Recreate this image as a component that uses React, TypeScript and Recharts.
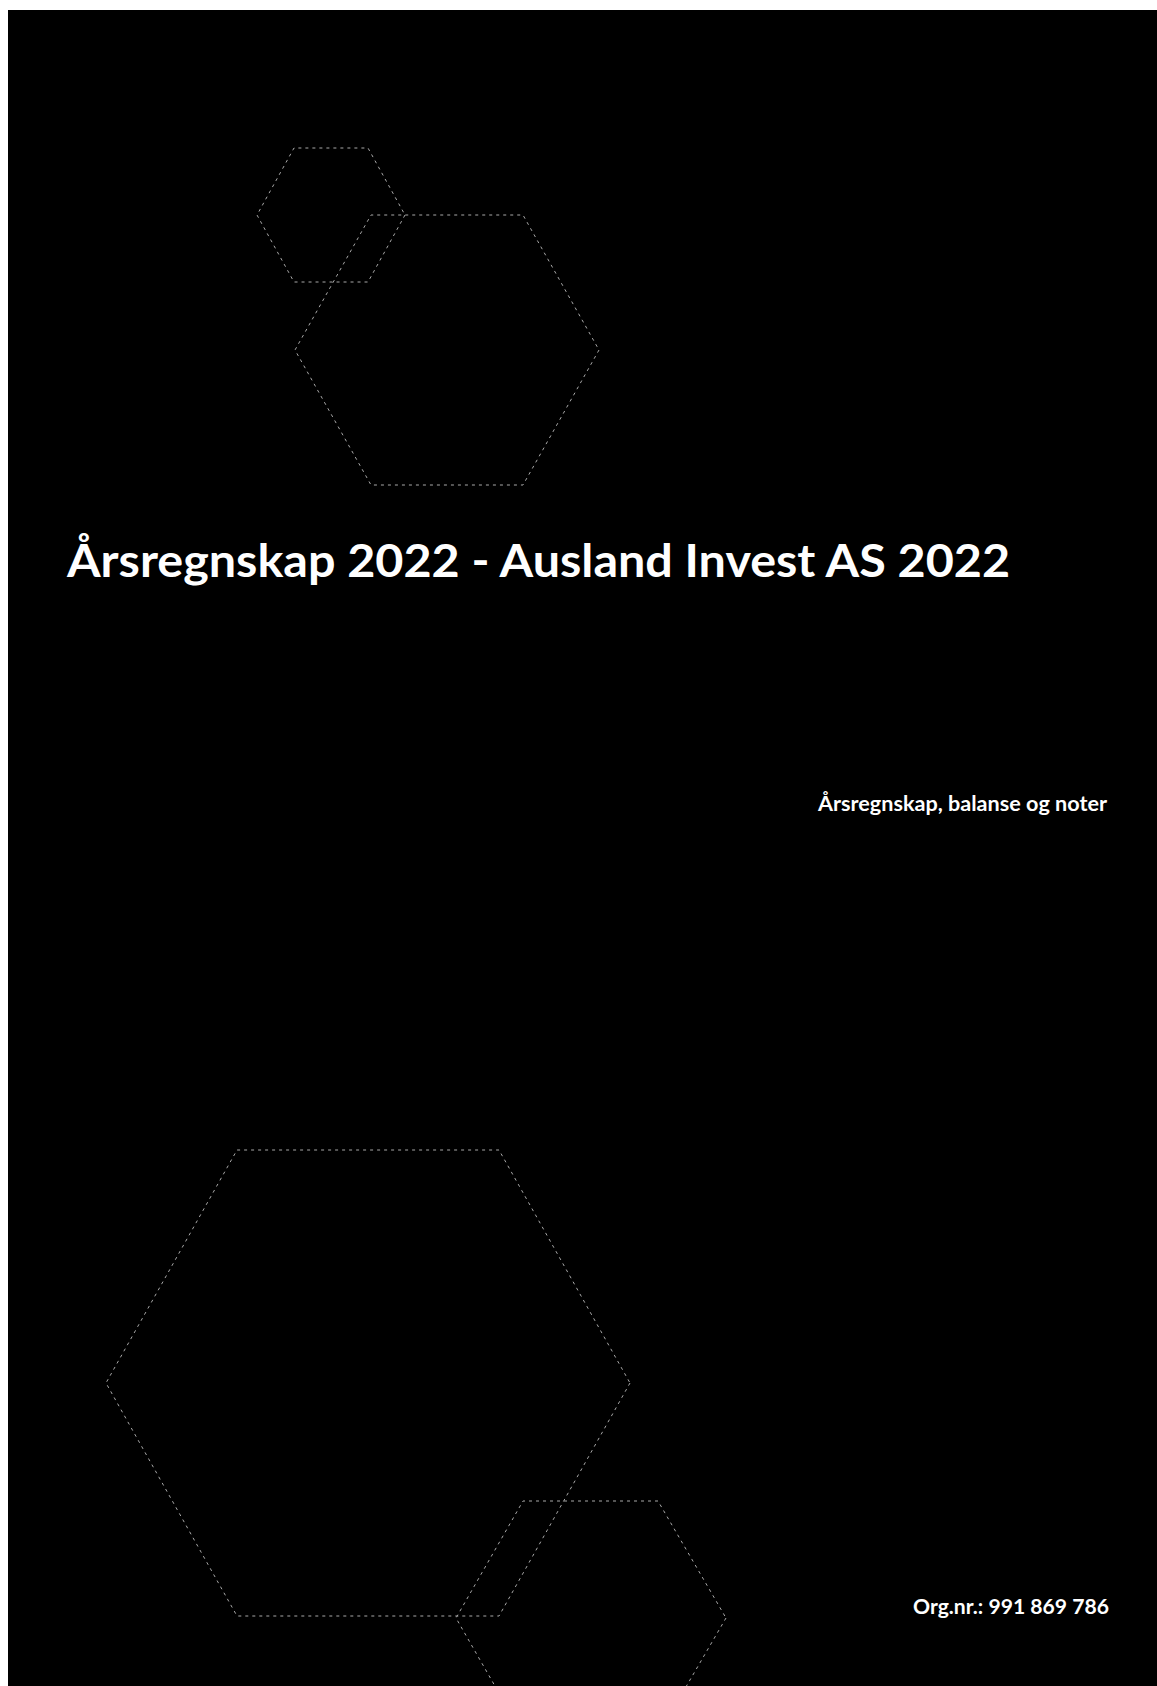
import React from 'react';
import { ScatterChart, Scatter, XAxis, YAxis } from 'recharts';

// Page-space coordinates (pixels).
const PAGE_X = [8, 1157];
const PAGE_Y = [10, 1686];

// Hexagon outlines (closed polygons, vertex lists)
const hexSmallTop = [
  { x: 405, y: 215 }, { x: 368, y: 282 }, { x: 294, y: 282 }, { x: 257, y: 215 },
  { x: 294, y: 148 }, { x: 368, y: 148 }, { x: 405, y: 215 },
];
const hexMediumTop = [
  { x: 599, y: 350 }, { x: 523, y: 485 }, { x: 371, y: 485 }, { x: 295, y: 350 },
  { x: 371, y: 215 }, { x: 523, y: 215 }, { x: 599, y: 350 },
];
const hexLargeBottom = [
  { x: 630, y: 1383 }, { x: 499, y: 1616 }, { x: 237, y: 1616 }, { x: 106, y: 1383 },
  { x: 237, y: 1150 }, { x: 499, y: 1150 }, { x: 630, y: 1383 },
];
const hexSmallBottom = [
  { x: 726, y: 1618 }, { x: 658, y: 1735 }, { x: 523, y: 1735 }, { x: 456, y: 1618 },
  { x: 523, y: 1501 }, { x: 658, y: 1501 }, { x: 726, y: 1618 },
];

const titleText = 'Årsregnskap 2022 - Ausland Invest AS 2022';
const subtitleText = 'Årsregnskap, balanse og noter';
const orgText = 'Org.nr.: 991 869 786';

const W = 1149;
const H = 1676;
const FONT = "Lato, 'Open Sans', 'Noto Sans', sans-serif";

const lineStyle = { stroke: '#a8a8a8', strokeWidth: 1, strokeDasharray: '3 4', fill: 'none' };
const noDot = () => <g />;

export default function App() {
  const series = [hexSmallTop, hexMediumTop, hexLargeBottom, hexSmallBottom];
  return (
    <div style={{ position: 'fixed', left: 8, top: 10, width: W, height: H, background: '#000', overflow: 'hidden' }}>
      <ScatterChart width={W} height={H} margin={{ top: 0, right: 0, bottom: 0, left: 0 }}>
        <XAxis type="number" dataKey="x" domain={PAGE_X} hide allowDataOverflow />
        <YAxis type="number" dataKey="y" domain={PAGE_Y} reversed hide allowDataOverflow />
        {series.map((d, i) => (
          <Scatter
            key={i}
            data={d}
            line={lineStyle}
            lineType="joint"
            shape={noDot}
            isAnimationActive={false}
          />
        ))}
      </ScatterChart>
      <svg width={W} height={H} style={{ position: 'absolute', left: 0, top: 0, pointerEvents: 'none' }}>
        <text x={59} y={567} fill="#fff" fontFamily={FONT} fontWeight={700} fontSize={46}
          textLength={943} lengthAdjust="spacingAndGlyphs">
          {titleText}
        </text>
        <text x={1099} y={801} fill="#fff" fontFamily={FONT} fontWeight={700} fontSize={20} textAnchor="end"
          textLength={289} lengthAdjust="spacingAndGlyphs">
          {subtitleText}
        </text>
        <text x={1101} y={1604} fill="#fff" fontFamily={FONT} fontWeight={700} fontSize={20} textAnchor="end"
          textLength={196} lengthAdjust="spacingAndGlyphs">
          {orgText}
        </text>
      </svg>
    </div>
  );
}
